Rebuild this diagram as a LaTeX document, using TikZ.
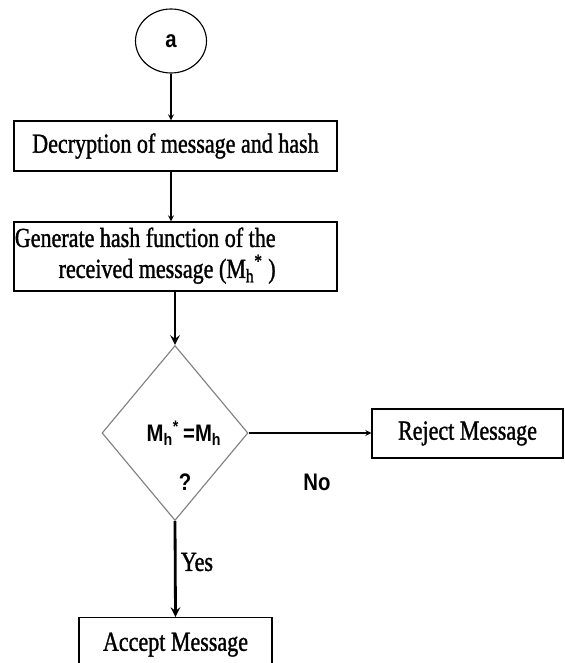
\documentclass[tikz,border=0pt]{standalone}
\usepackage{fontspec}
\setmainfont{Liberation Serif}[FakeStretch=0.8,FakeBold=1.2]
\newfontfamily\lsans{Liberation Sans}[FakeStretch=0.85]
\usetikzlibrary{arrows,shapes.geometric}
\tikzset{bx/.append style={draw,rectangle,line width=0.9pt,inner sep=0.05cm}}
\tikzset{tt/.append style={font=\fontsize{19.6}{22}\selectfont}}
\tikzset{ss/.append style={font=\lsans\bfseries\fontsize{17}{20}\selectfont}}
\tikzset{thin/.append style={->,>=stealth,line width=0.9pt}}
\tikzset{thk/.append style={->,>=stealth,line width=2pt}}

\begin{document}
\begin{tikzpicture}
                \useasboundingbox (0,0) rectangle (14.125,-16.575);
                % start
                \node[draw,ellipse,line width=0.8pt,minimum width=1.775cm,minimum height=1.6cm,ss] (a) at (4.275,-1.025) {a};
                \node[bx,tt,minimum width=8.075cm,minimum height=1.25cm] (dec) at (4.3875,-3.65) {Decryption of message and hash};
                \node[bx,minimum width=8.075cm,minimum height=1.725cm] (gen) at (4.3875,-6.4125) {};
                \node[tt,align=right,anchor=west,inner sep=0pt] (gentxt) at ([xshift=0.03cm,yshift=0.02cm]gen.west) {Generate hash function of the\\ received message (M\textsubscript{h}\textsuperscript{*} )};
                % check
                \node[draw=gray,diamond,line width=0.8pt,minimum width=3.65cm,minimum height=4.375cm,inner sep=0pt] (chk) at (4.375,-10.825) {};
                \node[ss] (eq) at (4.6,-10.825) {M\textsubscript{h}\textsuperscript{*}\,=M\textsubscript{h}};
                \node[ss] (q) at (4.625,-12.05) {?};
                \node[bx,tt,minimum width=4.775cm,minimum height=1.225cm] (rej) at (11.6875,-10.8375) {Reject Message};
                \node[bx,tt,anchor=north,minimum width=4.825cm,minimum height=1.35cm] (acc) at (4.3875,-15.425) {Accept Message};
                \node[ss] (no) at (7.925,-12.05) {No};
                \node[tt] (yes) at (4.925,-14.05) {Yes};
                % arrows
                \draw[thin] (a.south) -- (a.south |- dec.north);
                \draw[thin] (dec.south -| a) -- (gen.north -| a);
                \draw[thk] (gen.south -| chk) -- (chk.north);
                \draw[thin] (chk.east) -- (rej.west |- chk.east);
                \draw[thk] (chk.south) -- (acc.north);
            \end{tikzpicture}
\end{document}
